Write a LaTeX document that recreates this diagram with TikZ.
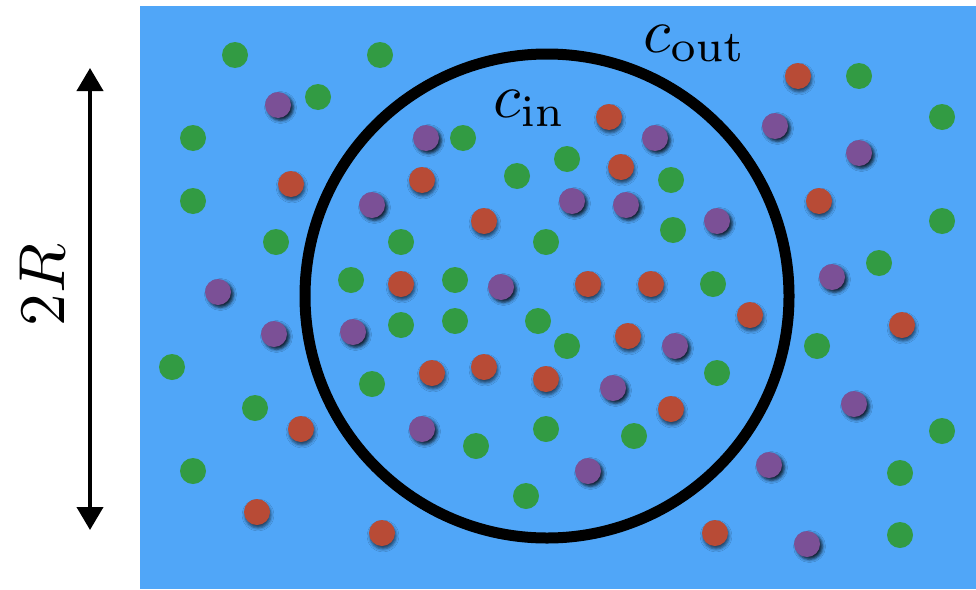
\documentclass[tikz,border=0pt]{standalone}
\usetikzlibrary{arrows.meta,shadows.blur}
\definecolor{bgblue}{HTML}{50A6F8}
\definecolor{dgreen}{HTML}{329B43}
\definecolor{dred}{HTML}{B84B36}
\definecolor{dpurple}{HTML}{7B5096}
\tikzset{
  dotbase/.style={circle,inner sep=0pt,minimum size=26pt},
  gdot/.style={dotbase,fill=dgreen},
  rdot/.style={dotbase,fill=dred,blur shadow={shadow xshift=1pt,shadow yshift=-3pt,shadow blur radius=3pt,shadow opacity=60}},
  pdot/.style={dotbase,fill=dpurple,blur shadow={shadow xshift=2.5pt,shadow yshift=-2.5pt,shadow blur radius=3pt,shadow opacity=80}},
  biglabel/.style={inner sep=0pt,scale=6.3,anchor=base west},
  rim/.style={draw=black,line width=11pt},
  dim/.style={line width=4pt,{Triangle[width=26pt,length=23pt]}-{Triangle[width=26pt,length=23pt]}}
}
\begin{document}
\begin{tikzpicture}[x=1pt,y=-1pt]
\useasboundingbox (0,0) rectangle (976,589);
\fill[bgblue] (140,6) rectangle (976,589);
% green dots
\foreach [count=\i] \p in {(235,55),(380,55),(318,97),(193,138),(193,201),(276,242),
  (463,138),(517,176),(401,242),(546,242),(351,280),(455,280),(567,159),(671,180),
  (673,230),(713,284),(859,76),(942,117),(942,221),(879,263),(401,325),(455,321),
  (538,321),(172,367),(372,384),(255,408),(476,446),(546,429),(193,471),(526,496),
  (567,346),(717,373),(634,436),(817,346),(942,431),(900,473),(900,535)}
  \node[gdot] (g\i) at \p {};
% red dots
\foreach [count=\i] \p in {(291,184),(422,180),(484,221),(401,284),(609,117),(621,167),
  (588,284),(651,284),(798,76),(819,201),(432,373),(484,367),(546,379),(301,429),
  (257,512),(382,533),(750,315),(628,336),(671,409),(902,325),(715,533)}
  \node[rdot] (r\i) at \p {};
% purple dots
\foreach [count=\i] \p in {(278,105),(218,292),(426,138),(372,205),(501,287),(655,138),
  (572,201),(626,205),(717,221),(775,126),(859,153),(832,277),(274,334),(353,332),
  (422,429),(675,346),(613,388),(588,471),(854,404),(769,465),(807,544)}
  \node[pdot] (p\i) at \p {};
% boundary circle
\node[rim,circle,minimum size=484pt,inner sep=0pt] (rim) at (547,296) {};
% labels
\node[biglabel] (cin) at (492,117) {$c_{\mathrm{in}}$};
\node[biglabel] (cout) at (642,52) {$c_{\mathrm{out}}$};
% dimension arrow
\coordinate (top) at (90,68);
\coordinate (bot) at (90,530);
\draw[dim] (top) -- (bot);
\node[inner sep=0pt,scale=6.5,rotate=90] (twoR) at (42,285) {$2R$};
\end{tikzpicture}
\end{document}
